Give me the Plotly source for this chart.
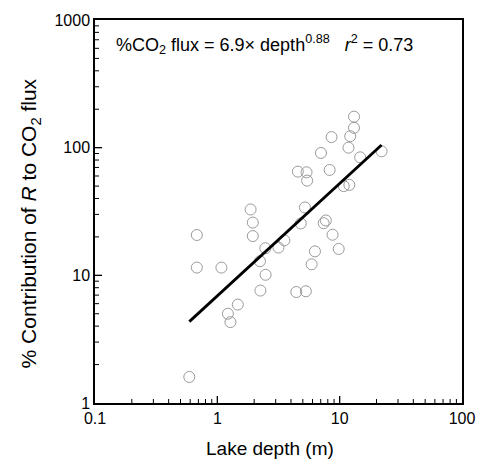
import plotly.graph_objects as go

# Lake depth (m) and % contribution of R to CO2 flux
depth = [0.59, 0.68, 0.68, 1.08, 1.22, 1.28, 1.47, 1.87, 1.95, 1.95,
         2.23, 2.47, 2.48, 2.25, 3.16, 3.53, 4.42, 5.29, 4.81, 5.20,
         4.55, 5.36, 5.42, 7.03, 8.59, 8.28, 5.90, 6.28, 7.40, 7.71,
         8.75, 9.82, 10.8, 12.0, 11.8, 12.2, 13.1, 13.1, 14.7, 22.0]
pct = [1.60, 20.7, 11.5, 11.5, 5.0, 4.3, 5.9, 32.8, 25.9, 20.3,
       12.9, 16.3, 10.1, 7.6, 16.5, 18.8, 7.4, 7.5, 25.5, 34.0,
       64.9, 64.1, 55.2, 90.9, 121, 66.9, 12.2, 15.4, 25.6, 26.9,
       20.8, 16.1, 50.0, 51.1, 100, 123, 143, 175, 84, 93.6]

# Fitted relation shown in the chart: %CO2 flux = 6.9 x depth^0.88
fit_coef = 6.9
fit_exp = 0.88
fit_x = [min(depth), max(depth)]
fit_y = [fit_coef * v ** fit_exp for v in fit_x]

x_ticks = [0.1, 1, 10, 100]
x_ticktext = ["0.1", "1", "10", "100"]
y_ticks = [1, 10, 100, 1000]
y_ticktext = ["1", "10", "100", "1000"]
minor_digits = [2, 3, 4, 5, 6, 7, 8, 9]
x_minor = [d * t for t in x_ticks[:-1] for d in minor_digits]
y_minor = [d * t for t in y_ticks[:-1] for d in minor_digits]

FONT = "Liberation Sans, Arial, Helvetica, sans-serif"

fig = go.Figure()
fig.add_trace(go.Scatter(
    x=depth, y=pct, mode="markers",
    marker=dict(symbol="circle-open", size=11, color="#9a9a9a",
                line=dict(width=1, color="#9a9a9a")),
    showlegend=False, hoverinfo="x+y"))
fig.add_trace(go.Scatter(
    x=fit_x, y=fit_y, mode="lines",
    line=dict(color="black", width=2.8), showlegend=False))

axis_common = dict(
    type="log", showgrid=False, zeroline=False,
    showline=True, linecolor="black", linewidth=1.5, mirror=True,
    ticks="", tickmode="array",
    tickfont=dict(family=FONT, size=16, color="black"),
)
fig.update_xaxes(range=[-1, 2], tickvals=x_ticks, ticktext=x_ticktext, **axis_common)
fig.update_yaxes(range=[0, 3], tickvals=y_ticks, ticktext=y_ticktext, **axis_common)

# inward tick marks, placed on the axis scale (long at decades, short at 2..9)
tick_shapes = []
for vals, length, width in ((x_ticks[1:-1], 7, 1.3), (x_minor, 4, 1)):
    for v in vals:
        tick_shapes.append(dict(type="line", xref="x", yref="paper", x0=v, x1=v,
                                ysizemode="pixel", yanchor=0, y0=0, y1=length,
                                line=dict(color="black", width=width), layer="above"))
for vals, length, width in ((y_ticks[1:-1], 7, 1.3), (y_minor, 4, 1)):
    for v in vals:
        tick_shapes.append(dict(type="line", xref="paper", yref="y", y0=v, y1=v,
                                xsizemode="pixel", xanchor=0, x0=0, x1=length,
                                line=dict(color="black", width=width), layer="above"))
fig.update_layout(shapes=tick_shapes)

fig.add_annotation(
    xref="paper", yref="paper", x=0.053, y=0.937, xanchor="left", yanchor="middle",
    text="%CO<sub>2</sub> flux = 6.9\u00d7 depth<sup>0.88</sup>   <i>r</i><sup>2</sup> = 0.73",
    showarrow=False, font=dict(family=FONT, size=18, color="black"))
fig.add_annotation(
    xref="paper", yref="paper", x=0.476, y=-0.12, xanchor="center", yanchor="middle",
    text="Lake depth (m)", showarrow=False,
    font=dict(family=FONT, size=19, color="black"))
fig.add_annotation(
    xref="paper", yref="paper", x=-0.176, y=0.47, xanchor="center", yanchor="middle",
    text="% Contribution of <i>R</i> to CO<sub>2</sub> flux", textangle=-90,
    showarrow=False, font=dict(family=FONT, size=21, color="black"))

fig.update_layout(
    width=487, height=462,
    margin=dict(l=95, r=12, t=19, b=59),
    paper_bgcolor="white", plot_bgcolor="white",
    font=dict(family=FONT, color="black"),
)

fig.write_html("out.html")
